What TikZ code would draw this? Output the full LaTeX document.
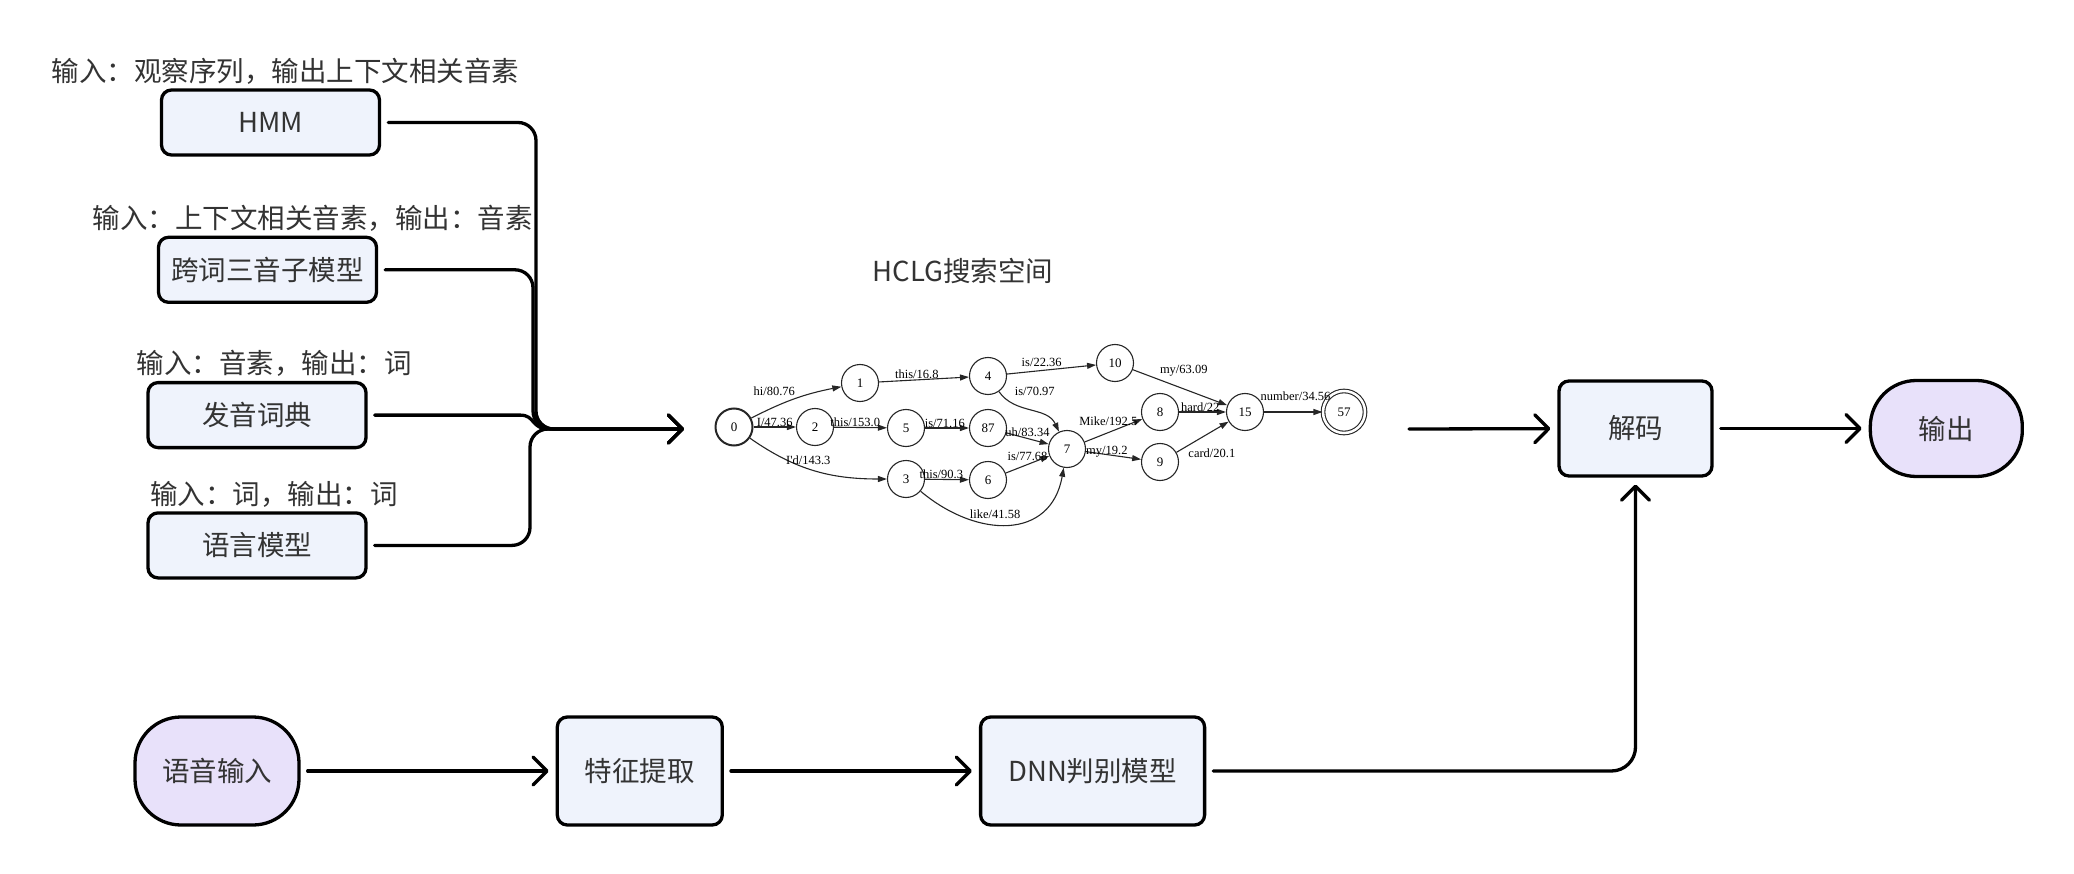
\documentclass[tikz,border=0pt]{standalone}
\usepackage{fontspec}
\setmainfont{Noto Sans CJK SC}
\newfontfamily\graphfont{Liberation Serif}
\usetikzlibrary{arrows.meta, positioning, calc}
\definecolor{boxblue}{HTML}{EFF3FC}
\definecolor{termlilac}{HTML}{E8E1FA}
\definecolor{inktext}{HTML}{333333}

\begin{document}
\begin{tikzpicture}[
    x=1pt, y=-1pt,
    font=\fontsize{27.5}{30}\selectfont,
    box/.style={
        draw=black, line width=3.3pt, fill=boxblue,
        rectangle, rounded corners=10pt,
        inner sep=4pt, align=center, text=inktext,
        minimum width=#1, minimum height=65pt,
    },
    box/.default=218pt,
    term/.style={
        draw=black, line width=3.3pt, fill=termlilac,
        rectangle, rounded corners=46pt,
        inner sep=4pt, align=center, text=inktext,
    },
    note/.style={inner sep=2pt, text=inktext},
    link/.style={-{Straight Barb[length=14pt, width=28pt, round]}, line width=3.3pt,
        rounded corners=18pt, shorten >=7pt, shorten <=7pt, line cap=round},
    state/.style={circle, draw=black!85, line width=1.1pt, minimum size=37pt,
        inner sep=0pt, font=\graphfont\fontsize{13}{13}\selectfont},
    arc/.style={-{Triangle[length=9pt, width=6pt]}, line width=1.1pt, draw=black!85},
    lbl/.style={font=\graphfont\fontsize{12.5}{13}\selectfont, inner sep=1pt},
]
\useasboundingbox (0,0) rectangle (2074,874);

% left column: models feeding the search space
\node[box] (hmm) at (270.5,122.5) {HMM};
\node[note, above=2pt of hmm, xshift=15pt] (hmmnote) {输入：观察序列，输出上下文相关音素};

\node[box, below=79pt of hmm, xshift=-3pt] (tri) {跨词三音子模型};
\node[note, above=2pt of tri, xshift=45pt] (trinote) {输入：上下文相关音素，输出：音素};

\node[box, below=77pt of tri, xshift=-10.5pt] (dict) {发音词典};
\node[note, above=2pt of dict, xshift=17pt] (dictnote) {输入：音素，输出：词};

\node[box, below=62pt of dict] (lm) {语言模型};
\node[note, above=2pt of lm, xshift=17pt] (lmnote) {输入：词，输出：词};

% HCLG search space
\node[note] (hclgtitle) at (963,271) {HCLG搜索空间};
\coordinate (hclgin) at (691,429);
\coordinate (hclgout) at (1402,429);
\coordinate (merge) at (536,429);

\node[state, line width=2pt] (s0) at (734,427) {0};
\node[state] (s1) at (860,383) {1};
\node[state] (s2) at (815,427) {2};
\node[state] (s3) at (906,479) {3};
\node[state] (s4) at (988,376) {4};
\node[state] (s5) at (906,428) {5};
\node[state] (s87) at (988,428) {87};
\node[state] (s6) at (988,480) {6};
\node[state] (s7) at (1067,449) {7};
\node[state] (s10) at (1115,363) {10};
\node[state] (s8) at (1160,412) {8};
\node[state] (s9) at (1160,462) {9};
\node[state] (s15) at (1245,412) {15};
\node[state, double, double distance=2.5pt, minimum size=42pt] (s57) at (1344,412) {57};

\draw[arc] (s0) to[bend left=8] node[lbl, pos=.25, above=10pt] {hi/80.76} (s1);
\draw[arc] (s0) -- node[lbl, pos=.5, above=-1pt] {I/47.36} (s2);
\draw[arc] (s0) to[out=-35, in=180] node[lbl, pos=.45, above=2pt] {I'd/143.3} (s3);
\draw[arc] (s1) -- node[lbl, pos=.42, above=0pt] {this/16.8} (s4);
\draw[arc] (s2) -- node[lbl, pos=.4, above=-1pt] {this/153.0} (s5);
\draw[arc] (s5) -- node[lbl, pos=.45, above=-1pt] {is/71.16} (s87);
\draw[arc] (s3) -- node[lbl, pos=.37, above=-1pt] {this/90.3} (s6);
\draw[arc] (s4) -- node[lbl, pos=.39, above=2pt] {is/22.36} (s10);
\draw[arc] (s4) to[out=-55, in=115] node[lbl, pos=.1, right=9pt, yshift=6pt] {is/70.97} (s7);
\draw[arc] (s87) -- node[lbl, pos=.5, above=0pt] {uh/83.34} (s7);
\draw[arc] (s6) -- node[lbl, pos=.5, above=2pt] {is/77.68} (s7);
\draw[arc] (s3) to[out=-40, in=-100, looseness=1.3] node[lbl, pos=.42, above=4pt] {like/41.58} (s7);
\draw[arc] (s7) -- node[lbl, pos=.41, above=5pt] {Mike/192.5} (s8);
\draw[arc] (s7) -- node[lbl, pos=.38, above=-4pt] {my/19.2} (s9);
\draw[arc] (s10) -- node[lbl, pos=.54, above=11pt] {my/63.09} (s15);
\draw[arc] (s8) -- node[lbl, pos=.45, above=-1pt] {hard/22} (s15);
\draw[arc] (s9) -- node[lbl, pos=.68, below=16pt] {card/20.1} (s15);
\draw[arc] (s15) -- node[lbl, pos=.54, above=10pt] {number/34.56} (s57);

% decoding and output
\node[box=153pt, minimum height=95pt] (decode) at (1635.5,428.5) {解码};
\node[term, minimum width=152pt, minimum height=96pt, right=155pt of decode] (result) {输出};

% bottom row: acoustic front end
\node[term, minimum width=164pt, minimum height=108pt] (voice) at (217,771) {语音输入};
\node[box=165pt, minimum height=108pt, right=255pt of voice] (feat) {特征提取};
\node[box=224pt, minimum height=108pt, right=255pt of feat] (dnn) {DNN判别模型};

\draw[link] (hmm.east) -| (merge) -- (hclgin);
\draw[link] (tri.east) -| ([xshift=-3pt]merge) -- (hclgin);
\draw[link, sharp corners] (dict.east) -- ($(dict.east -| merge)+(-16,0)$)
    .. controls ($(dict.east -| merge)+(0,0)$) and ($(merge)+(-6,0)$) .. ($(merge)+(14,0)$) -- (hclgin);
\draw[link] (lm.east) -| ([xshift=-6pt]merge) -- (hclgin);

\draw[link] (hclgout) -- (decode);
\draw[link] (decode) -- (result);
\draw[link] (voice) -- (feat);
\draw[link] (feat) -- (dnn);
\draw[link, rounded corners=24pt] (dnn) -| (decode);

\end{tikzpicture}
\end{document}
